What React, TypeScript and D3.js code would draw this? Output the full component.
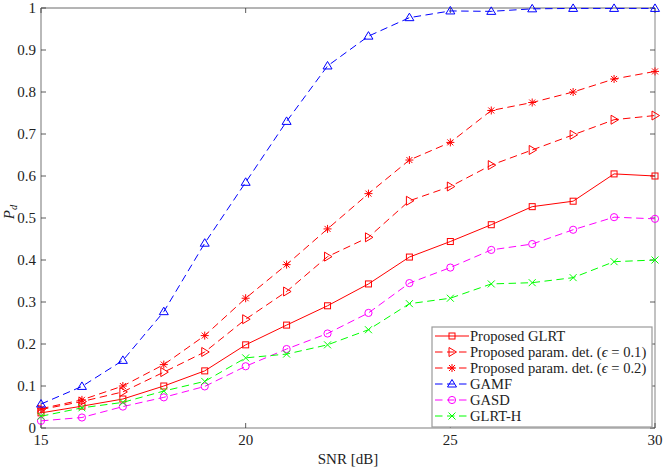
import { scaleLinear, line } from "d3";

const SNR = [15, 16, 17, 18, 19, 20, 21, 22, 23, 24, 25, 26, 27, 28, 29, 30];

const GLRT = [0.036, 0.052, 0.069, 0.1, 0.136, 0.198, 0.245, 0.291, 0.343, 0.407, 0.444, 0.484, 0.527, 0.54, 0.605, 0.6];
const PARAM_01 = [0.044, 0.063, 0.086, 0.133, 0.181, 0.259, 0.325, 0.408, 0.454, 0.541, 0.575, 0.626, 0.662, 0.698, 0.734, 0.744];
const PARAM_02 = [0.046, 0.067, 0.1, 0.151, 0.22, 0.309, 0.389, 0.474, 0.558, 0.638, 0.68, 0.756, 0.775, 0.8, 0.831, 0.849];
const GAMF = [0.057, 0.099, 0.161, 0.277, 0.44, 0.585, 0.73, 0.862, 0.933, 0.977, 0.993, 0.992, 0.998, 0.999, 0.999, 0.999];
const GASD = [0.017, 0.025, 0.051, 0.073, 0.099, 0.147, 0.188, 0.225, 0.274, 0.345, 0.382, 0.424, 0.438, 0.472, 0.502, 0.498];
const GLRT_H = [0.028, 0.048, 0.061, 0.088, 0.111, 0.167, 0.176, 0.198, 0.234, 0.296, 0.309, 0.343, 0.346, 0.358, 0.396, 0.4];

const X_TICKS = [15, 20, 25, 30];
const Y_TICKS = [0, 0.1, 0.2, 0.3, 0.4, 0.5, 0.6, 0.7, 0.8, 0.9, 1];

type Marker = "square" | "triR" | "star" | "triUp" | "circle" | "cross";

type Series = {
  name: string;
  eps?: string;
  values: number[];
  color: string;
  dashed: boolean;
  marker: Marker;
};

const SERIES: Series[] = [
  { name: "Proposed GLRT", values: GLRT, color: "#ff0000", dashed: false, marker: "square" },
  { name: "Proposed param. det.", eps: "0.1", values: PARAM_01, color: "#ff0000", dashed: true, marker: "triR" },
  { name: "Proposed param. det.", eps: "0.2", values: PARAM_02, color: "#ff0000", dashed: true, marker: "star" },
  { name: "GAMF", values: GAMF, color: "#0000ff", dashed: true, marker: "triUp" },
  { name: "GASD", values: GASD, color: "#ff00ff", dashed: true, marker: "circle" },
  { name: "GLRT-H", values: GLRT_H, color: "#00ff00", dashed: true, marker: "cross" },
];

const W = 664;
const H = 469;
const PLOT = { left: 41, right: 655, top: 8, bottom: 428 };
const FONT = "'Liberation Serif', 'DejaVu Serif', serif";
const DASH = "7.5,4.5";

function MarkerShape({ kind, x, y, color }: { kind: Marker; x: number; y: number; color: string }) {
  const common = { fill: "none", stroke: color, strokeWidth: 1 };
  switch (kind) {
    case "square":
      return <rect x={x - 3} y={y - 3} width={6} height={6} {...common} />;
    case "circle":
      return <circle cx={x} cy={y} r={3.6} {...common} />;
    case "triUp":
      return <path d={`M${x},${y - 4.5}L${x + 4.5},${y + 3}L${x - 4.5},${y + 3}Z`} {...common} />;
    case "triR":
      return <path d={`M${x + 4.5},${y}L${x - 3},${y + 4.5}L${x - 3},${y - 4.5}Z`} {...common} />;
    case "cross":
      return <path d={`M${x - 3.5},${y - 3.5}L${x + 3.5},${y + 3.5}M${x - 3.5},${y + 3.5}L${x + 3.5},${y - 3.5}`} {...common} />;
    case "star":
      return (
        <path
          d={`M${x - 4},${y}L${x + 4},${y}M${x},${y - 4}L${x},${y + 4}M${x - 3},${y - 3}L${x + 3},${y + 3}M${x - 3},${y + 3}L${x + 3},${y - 3}`}
          {...common}
        />
      );
  }
}

export default function App() {
  const x = scaleLinear().domain([15, 30]).range([PLOT.left, PLOT.right]);
  const y = scaleLinear().domain([0, 1]).range([PLOT.bottom, PLOT.top]);

  const legend = { x: 432, y: 327, w: 220, h: 100, row: 16 };

  return (
    <svg
      width={W}
      height={H}
      style={{ position: "absolute", left: 0, top: 0, background: "#fff" }}
      fontFamily={FONT}
    >
      {/* box */}
      <line x1={PLOT.left} x2={PLOT.right} y1={PLOT.top} y2={PLOT.top} stroke="#444" strokeWidth={0.8} />
      <line x1={PLOT.right} x2={PLOT.right} y1={PLOT.top} y2={PLOT.bottom} stroke="#a8a8a8" strokeWidth={1.4} />
      <line x1={PLOT.left} x2={PLOT.right} y1={PLOT.bottom} y2={PLOT.bottom} stroke="#a8a8a8" strokeWidth={1.4} />
      <line x1={PLOT.left} x2={PLOT.left} y1={PLOT.top} y2={PLOT.bottom} stroke="#a8a8a8" strokeWidth={1.6} />

      {/* ticks */}
      {X_TICKS.map(t => (
        <g key={`x${t}`}>
          <line x1={x(t)} x2={x(t)} y1={PLOT.bottom} y2={PLOT.bottom - 5} stroke="#333" strokeWidth={0.8} />
          <line x1={x(t)} x2={x(t)} y1={PLOT.top} y2={PLOT.top + 5} stroke="#333" strokeWidth={0.8} />
          <text x={x(t)} y={445} textAnchor="middle" fontSize={15} fill="#222">{t}</text>
        </g>
      ))}
      {Y_TICKS.map(t => (
        <g key={`y${t}`}>
          <line x1={PLOT.left} x2={PLOT.left + 5} y1={y(t)} y2={y(t)} stroke="#333" strokeWidth={0.8} />
          <line x1={PLOT.right} x2={PLOT.right - 5} y1={y(t)} y2={y(t)} stroke="#333" strokeWidth={0.8} />
          <text x={36} y={y(t)} dy="0.35em" textAnchor="end" fontSize={15} fill="#222">{t}</text>
        </g>
      ))}

      <text x={348} y={464} textAnchor="middle" fontSize={15} fill="#222">SNR [dB]</text>
      <text transform="translate(14,212) rotate(-90)" textAnchor="middle" fontSize={15} fill="#222">
        <tspan fontStyle="italic">P</tspan>
        <tspan fontStyle="italic" fontSize={10.5} dy={3}>d</tspan>
      </text>

      {/* series */}
      {SERIES.map((s, k) => {
        const pts = s.values.map((v, i) => [x(SNR[i]), y(v)] as [number, number]);
        return (
          <g key={k}>
            <path
              d={line()(pts) ?? ""}
              fill="none"
              stroke={s.color}
              strokeWidth={1}
              strokeDasharray={s.dashed ? DASH : undefined}
            />
            {pts.map(([px, py], i) => (
              <MarkerShape key={i} kind={s.marker} x={px} y={py} color={s.color} />
            ))}
          </g>
        );
      })}

      {/* legend */}
      <rect x={legend.x} y={legend.y} width={legend.w} height={legend.h} fill="#fff" stroke="#9a9a9a" strokeWidth={1.2} />
      {SERIES.map((s, i) => {
        const cy = legend.y + 9 + i * legend.row;
        return (
          <g key={`lg${i}`}>
            <line
              x1={legend.x + 3}
              x2={legend.x + 37}
              y1={cy}
              y2={cy}
              stroke={s.color}
              strokeWidth={1}
              strokeDasharray={s.dashed ? DASH : undefined}
            />
            <MarkerShape kind={s.marker} x={legend.x + 20} y={cy} color={s.color} />
            <text x={legend.x + 38} y={cy} dy="0.35em" fontSize={14.6} fill="#222">
              {s.name}
              {s.eps && (
                <>
                  {" ("}
                  <tspan fontStyle="italic">ϵ</tspan>
                  {` = ${s.eps})`}
                </>
              )}
            </text>
          </g>
        );
      })}
    </svg>
  );
}
